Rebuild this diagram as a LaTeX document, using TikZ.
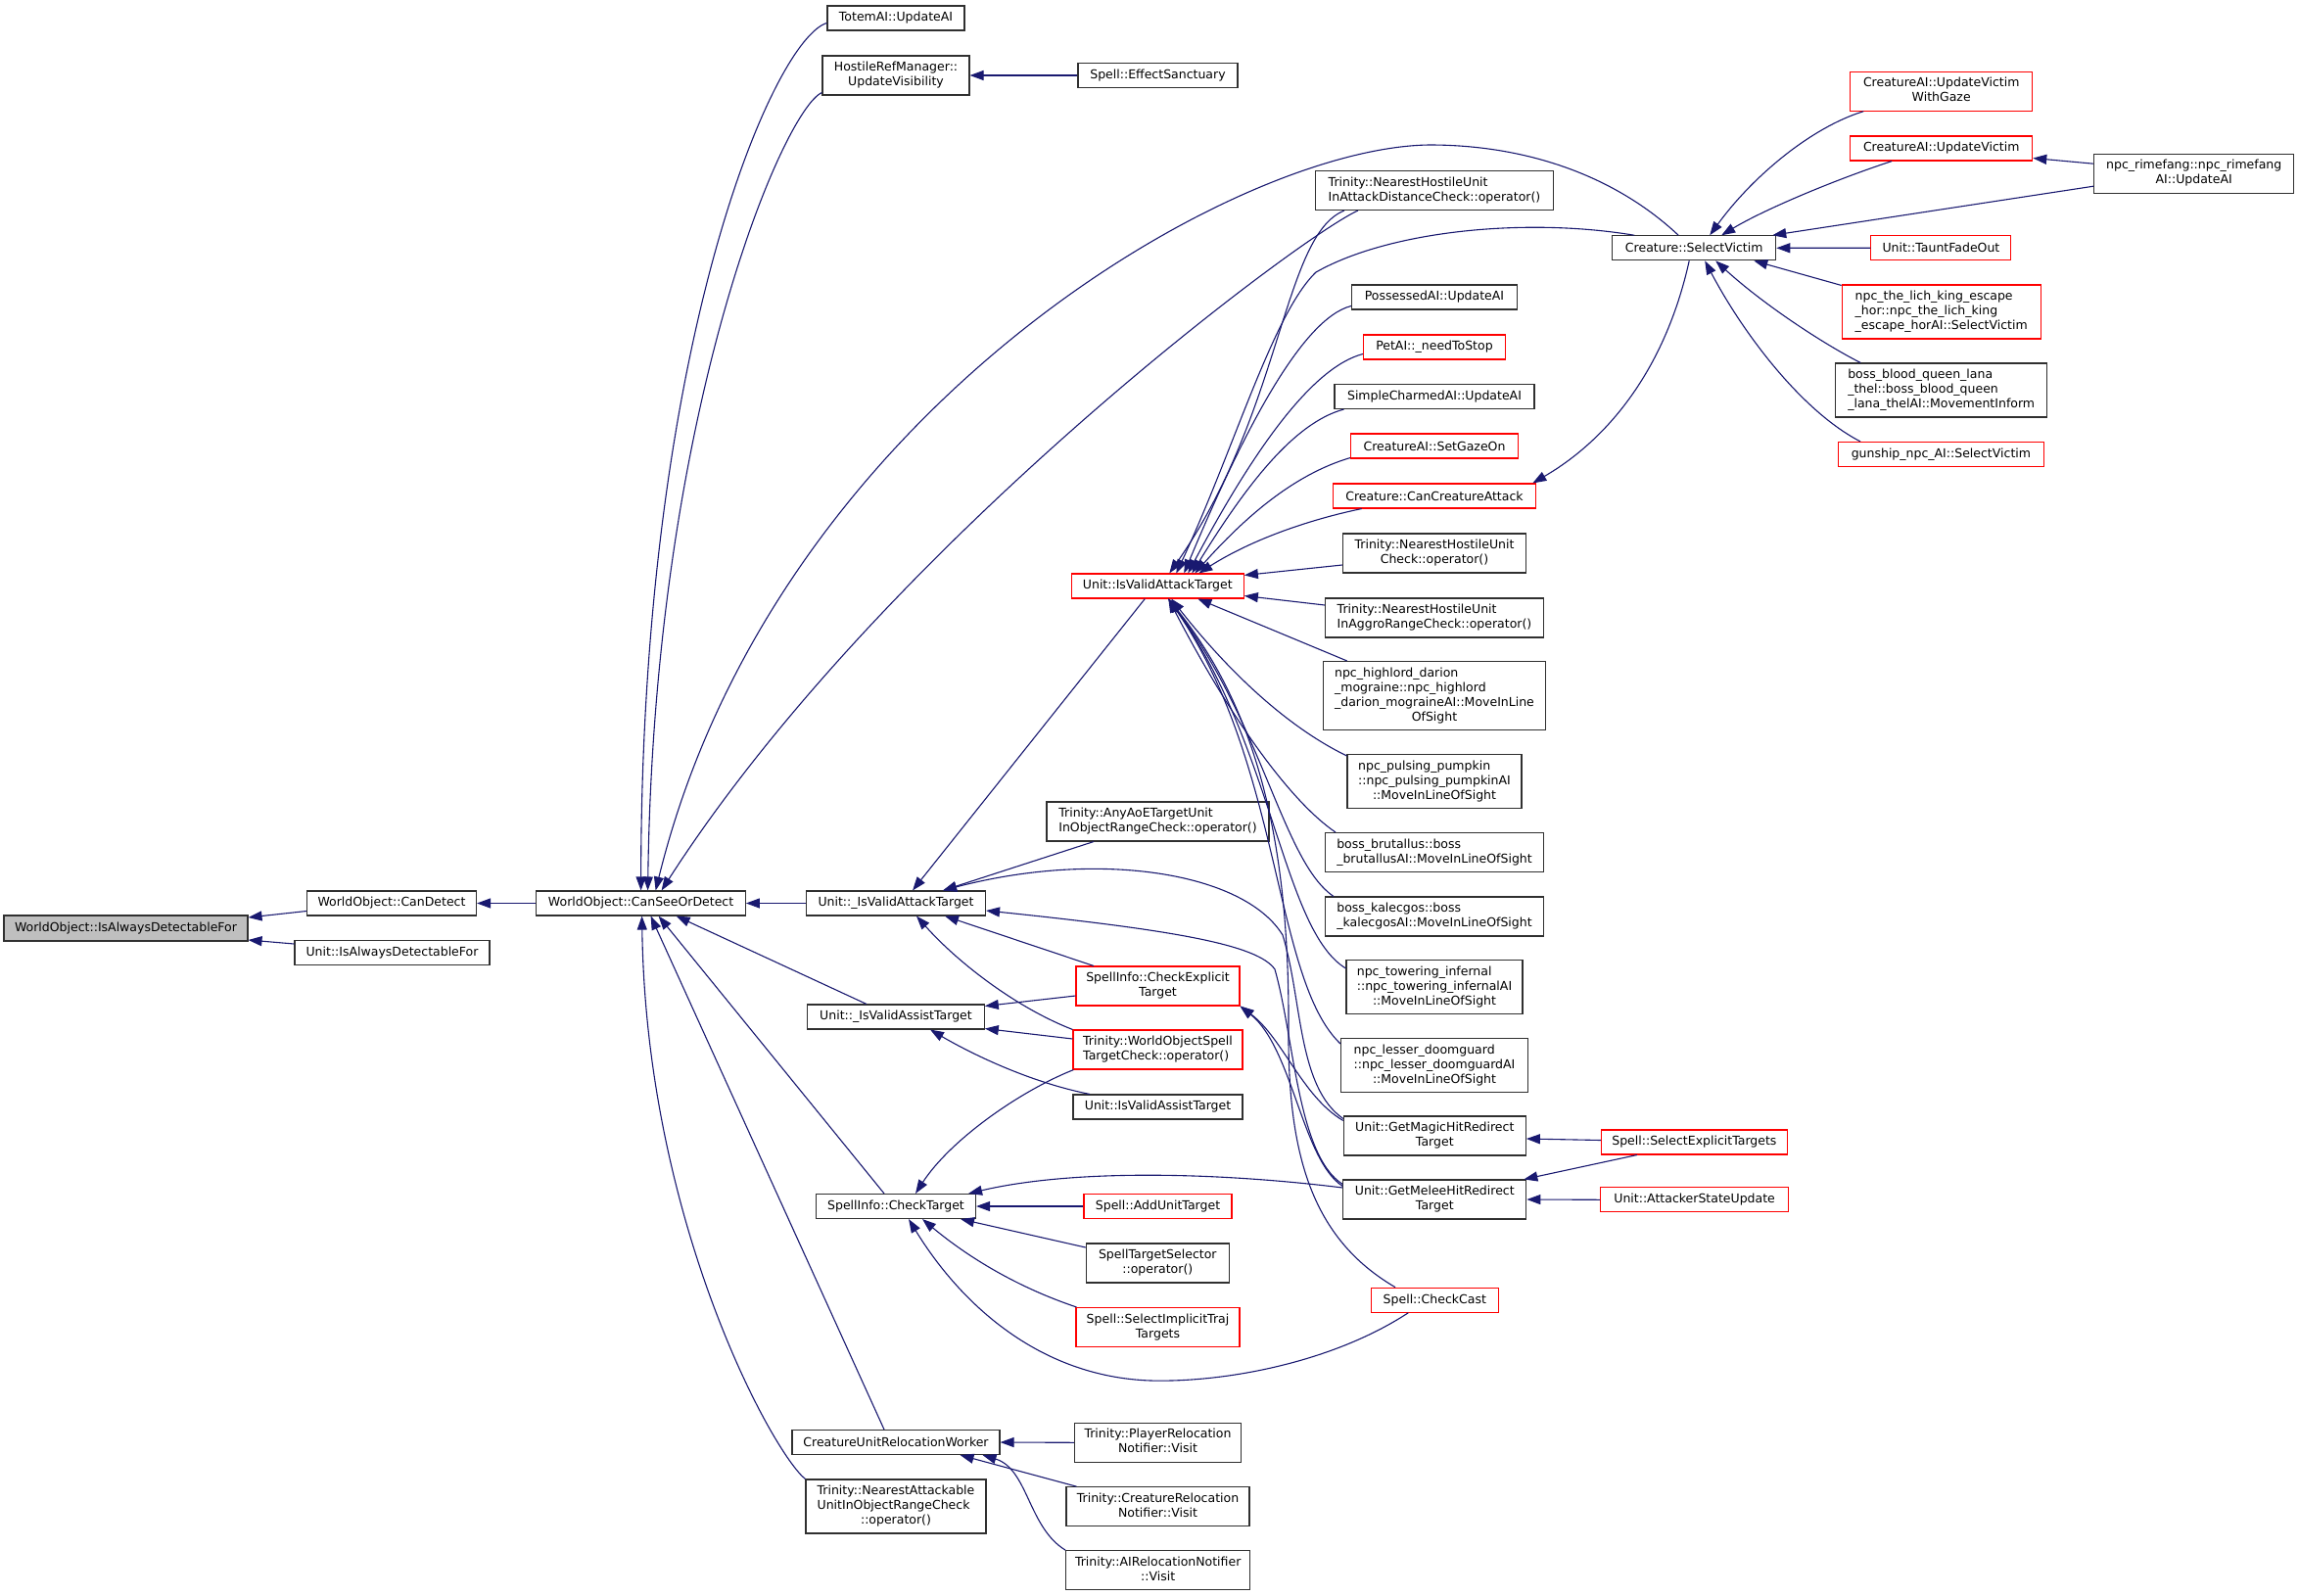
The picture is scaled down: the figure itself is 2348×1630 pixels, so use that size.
\documentclass[tikz,border=0pt]{standalone}
\usepackage{fontspec}
\setmainfont{DejaVu Sans}
\usetikzlibrary{arrows.meta,calc}
\definecolor{mb}{HTML}{191970}
\definecolor{rd}{HTML}{FF0000}
\definecolor{gr}{HTML}{BFBFBF}
\definecolor{bk}{HTML}{303030}
\newcommand{\Lc}[1]{\multicolumn{1}{@{}c@{}}{#1}}
\newcommand{\tl}[1]{\begin{tabular}{@{}l@{}}#1\end{tabular}}
\tikzset{
 bx/.style={draw=bk, line width=1.1pt, fill=white, inner sep=0pt, minimum height=25pt, font=\fontsize{12.5}{15}\selectfont, text=black},
 rb/.style={bx, draw=rd},
 e/.style={draw=mb, line width=1.1pt, -{Triangle[length=14pt,width=10pt]}},
}
\begin{document}
\begin{tikzpicture}[x=1pt,y=-1pt]
\fill[white] (0,0) rectangle (2348,1630);
\useasboundingbox (0,0) rectangle (2348,1630);
% nodes
\node[bx,fill=gr,minimum width=249pt,minimum height=26pt] (n1) at (128.5,948) {WorldObject::IsAlwaysDetectableFor};
\node[bx,minimum width=173pt] (n2) at (400,922.5) {WorldObject::CanDetect};
\node[bx,minimum width=199pt] (n3) at (400.5,973) {Unit::IsAlwaysDetectableFor};
\node[bx,minimum width=213.5pt] (n4) at (654.6,922.5) {WorldObject::CanSeeOrDetect};
\node[bx,minimum width=140pt] (n5) at (915,18.5) {TotemAI::UpdateAI};
\node[bx,minimum width=150pt,minimum height=40pt] (n6) at (915,77) {\tl{HostileRefManager::\\\Lc{UpdateVisibility}}};
\node[bx,minimum width=163pt] (n7) at (1182.5,77) {Spell::EffectSanctuary};
\node[bx,minimum width=183pt] (n8) at (915,922.5) {Unit::\_IsValidAttackTarget};
\node[bx,minimum width=180.5pt] (n9) at (915,1038.5) {Unit::\_IsValidAssistTarget};
\node[bx,minimum width=163pt] (n10) at (915,1232) {SpellInfo::CheckTarget};
\node[bx,minimum width=212pt] (n11) at (915,1473) {CreatureUnitRelocationWorker};
\node[bx,minimum width=184pt,minimum height=55pt] (n12) at (915,1538.5) {\tl{Trinity::NearestAttackable\\UnitInObjectRangeCheck\\\Lc{::operator()}}};
\node[bx,minimum width=243pt,minimum height=40pt] (n13) at (1465,194.5) {\tl{Trinity::NearestHostileUnit\\InAttackDistanceCheck::operator()}};
\node[bx,minimum width=169pt] (n14) at (1465,303.5) {PossessedAI::UpdateAI};
\node[rb,minimum width=145pt] (n15) at (1465,354.5) {PetAI::\_needToStop};
\node[bx,minimum width=204pt] (n16) at (1465,405) {SimpleCharmedAI::UpdateAI};
\node[rb,minimum width=171pt] (n17) at (1465,455.5) {CreatureAI::SetGazeOn};
\node[rb,minimum width=207.5pt] (n18) at (1465,506.5) {Creature::CanCreatureAttack};
\node[bx,minimum width=187pt,minimum height=40pt] (n19) at (1465,565) {\tl{Trinity::NearestHostileUnit\\\Lc{Check::operator()}}};
\node[rb,minimum width=176pt] (n20) at (1182.3,598.5) {Unit::IsValidAttackTarget};
\node[bx,minimum width=223pt,minimum height=40pt] (n21) at (1465,631) {\tl{Trinity::NearestHostileUnit\\InAggroRangeCheck::operator()}};
\node[bx,minimum width=227.5pt,minimum height=70pt] (n22) at (1465,710.5) {\tl{npc\_highlord\_darion\\\_mograine::npc\_highlord\\\_darion\_mograineAI::MoveInLine\\\Lc{OfSight}}};
\node[bx,minimum width=178pt,minimum height=55pt] (n23) at (1465,798) {\tl{npc\_pulsing\_pumpkin\\::npc\_pulsing\_pumpkinAI\\\Lc{::MoveInLineOfSight}}};
\node[bx,minimum width=227pt,minimum height=40pt] (n24) at (1182.5,839) {\tl{Trinity::AnyAoETargetUnit\\InObjectRangeCheck::operator()}};
\node[bx,minimum width=223pt,minimum height=40pt] (n25) at (1465,870.5) {\tl{boss\_brutallus::boss\\\_brutallusAI::MoveInLineOfSight}};
\node[bx,minimum width=223pt,minimum height=40pt] (n26) at (1465,936) {\tl{boss\_kalecgos::boss\\\_kalecgosAI::MoveInLineOfSight}};
\node[bx,minimum width=180pt,minimum height=55pt] (n27) at (1465,1008) {\tl{npc\_towering\_infernal\\::npc\_towering\_infernalAI\\\Lc{::MoveInLineOfSight}}};
\node[bx,minimum width=191pt,minimum height=55pt] (n28) at (1465,1088) {\tl{npc\_lesser\_doomguard\\::npc\_lesser\_doomguardAI\\\Lc{::MoveInLineOfSight}}};
\node[rb,minimum width=167pt,minimum height=40pt] (n29) at (1182.5,1007) {\tl{SpellInfo::CheckExplicit\\\Lc{Target}}};
\node[rb,minimum width=173pt,minimum height=40pt] (n30) at (1182.5,1072) {\tl{Trinity::WorldObjectSpell\\TargetCheck::operator()}};
\node[bx,minimum width=173pt] (n31) at (1182.5,1130.5) {Unit::IsValidAssistTarget};
\node[rb,minimum width=151pt] (n32) at (1182.5,1232) {Spell::AddUnitTarget};
\node[bx,minimum width=146pt,minimum height=40pt] (n33) at (1182.3,1290) {\tl{SpellTargetSelector\\\Lc{::operator()}}};
\node[rb,minimum width=167pt,minimum height=40pt] (n34) at (1182.5,1355.5) {\tl{Spell::SelectImplicitTraj\\\Lc{Targets}}};
\node[bx,minimum width=170pt,minimum height=40pt] (n35) at (1182.5,1473.3) {\tl{Trinity::PlayerRelocation\\\Lc{Notifier::Visit}}};
\node[bx,minimum width=187pt,minimum height=40pt] (n36) at (1182.5,1538.7) {\tl{Trinity::CreatureRelocation\\\Lc{Notifier::Visit}}};
\node[bx,minimum width=188pt,minimum height=40pt] (n37) at (1182.7,1603.7) {\tl{Trinity::AIRelocationNotifier\\\Lc{::Visit}}};
\node[bx,minimum width=186pt,minimum height=40pt] (n38) at (1465.3,1160) {\tl{Unit::GetMagicHitRedirect\\\Lc{Target}}};
\node[rb,minimum width=190pt] (n39) at (1730.4,1166.5) {Spell::SelectExplicitTargets};
\node[bx,minimum width=187pt,minimum height=40pt] (n40) at (1465.3,1225) {\tl{Unit::GetMeleeHitRedirect\\\Lc{Target}}};
\node[rb,minimum width=192pt] (n41) at (1730.6,1225.3) {Unit::AttackerStateUpdate};
\node[rb,minimum width=129.5pt] (n42) at (1465.3,1327.7) {Spell::CheckCast};
\node[rb,minimum width=186pt,minimum height=40pt] (n43) at (1982.7,93.2) {\tl{CreatureAI::UpdateVictim\\\Lc{WithGaze}}};
\node[rb,minimum width=186pt] (n44) at (1982.7,151.5) {CreatureAI::UpdateVictim};
\node[bx,minimum width=204pt,minimum height=40pt] (n45) at (2240.7,177.2) {\tl{npc\_rimefang::npc\_rimefang\\\Lc{AI::UpdateAI}}};
\node[bx,minimum width=167pt] (n46) at (1730.2,253.3) {Creature::SelectVictim};
\node[rb,minimum width=143pt] (n47) at (1982.4,253.2) {Unit::TauntFadeOut};
\node[rb,minimum width=203pt,minimum height=55pt] (n48) at (1982.7,318.5) {\tl{npc\_the\_lich\_king\_escape\\\_hor::npc\_the\_lich\_king\\\_escape\_horAI::SelectVictim}};
\node[bx,minimum width=216pt,minimum height=55pt] (n49) at (1982.7,398.5) {\tl{boss\_blood\_queen\_lana\\\_thel::boss\_blood\_queen\\\_lana\_thelAI::MovementInform}};
\node[rb,minimum width=209.5pt] (n50) at (1982.4,464) {gunship\_npc\_AI::SelectVictim};
% edges
\draw[e] ($(n2.west)+(0,8)$) -- ($(n1.east)+(0,-11)$);
\draw[e] ($(n3.west)+(0,-9)$) -- ($(n1.east)+(0,12)$);
\draw[e] (n4.west) -- (n2.east);
\draw[e] ($(n5.west)+(0,5)$) .. controls (790,40) and (655,350) .. (n4.north);
\draw[e] ($(n6.south west)+(0,-3)$) .. controls (800,112) and (668,420) .. ($(n4.north)+(7,0)$);
\draw[e] ($(n46.north west)+(68,0)$) .. controls (1650,180) and (1560,148) .. (1460,148) .. controls (1260,150) and (790,420) .. ($(n4.north)+(15,0)$);
\draw[e] ($(n13.south west)+(44,0)$) .. controls (1330,240) and (900,560) .. ($(n4.north)+(21,0)$);
\draw[e] (n8.west) -- (n4.east);
\draw[e] ($(n9.north)+(-30,0)$) -- ($(n4.south)+(36,0)$);
\draw[e] ($(n10.north)+(-12,0)$) -- ($(n4.south)+(18,0)$);
\draw[e] ($(n11.north)+(-12,0)$) -- ($(n4.south)+(10,0)$);
\draw[e] (n12.north west) .. controls (790,1485) and (660,1250) .. ($(n4.south)+(1,0)$);
\draw[e] (n7.west) -- (n6.east);
\draw[e] ($(n20.south)+(-13,0)$) -- ($(n8.north)+(17,0)$);
\draw[e] ($(n24.south)+(-65.5,0)$) -- ($(n8.north)+(48,0)$);
\draw[e] ($(n29.north)+(-65.5,0)$) -- ($(n8.south)+(50,0)$);
\draw[e] (n30.north west) .. controls (1040,1030) and (980,985) .. ($(n8.south)+(21,0)$);
\draw[e] ($(n38.north west)+(0,3)$) .. controls (1325,1110) and (1330,1020) .. (1310,955) .. controls (1270,890) and (1120,868) .. ($(n8.north)+(48,0)$);
\draw[e] ($(n40.north west)+(0,5)$) .. controls (1325,1180) and (1322,1060) .. (1302,990) .. controls (1285,965) and (1200,950) .. ($(n8.east)+(0,7.5)$);
\draw[e] ($(n29.west)+(0,10)$) -- ($(n9.east)+(0,-11)$);
\draw[e] ($(n30.west)+(0,-11)$) -- ($(n9.east)+(0,12)$);
\draw[e] ($(n31.north)+(-69.5,0)$) .. controls (1050,1105) and (990,1075) .. ($(n9.south)+(35,0)$);
\draw[e] ($(n30.south west)+(1,0)$) .. controls (1040,1115) and (970,1165) .. ($(n10.north)+(20,0)$);
\draw[e] (n32.west) -- (n10.east);
\draw[e] ($(n33.west)+(0,-16)$) -- ($(n10.south east)+(-16,0)$);
\draw[e] ($(n34.north west)+(1,0)$) .. controls (1040,1315) and (990,1285) .. ($(n10.south)+(27,0)$);
\draw[e] ($(n42.south)+(-27,0)$) .. controls (1360,1392) and (1250,1412) .. (1175,1410) .. controls (1060,1406) and (980,1330) .. ($(n10.south)+(13,0)$);
\draw[e] ($(n40.west)+(0,-12)$) .. controls (1250,1198) and (1100,1193) .. ($(n10.north east)+(-8,0)$);
\draw[e] (n35.west) -- (n11.east);
\draw[e] ($(n36.north west)+(11,0)$) -- ($(n11.south east)+(-41,0)$);
\draw[e] (n37.north west) .. controls (1050,1560) and (1050,1500) .. ($(n11.south east)+(-18,0)$);
\draw[e] ($(n13.south west)+(30,0)$) .. controls (1310,240) and (1310,420) .. ($(n20.north)+(12,0)$);
\draw[e] ($(n46.north west)+(23,0)$) .. controls (1560,222) and (1420,235) .. (1344,278) .. controls (1300,320) and (1260,460) .. ($(n20.north)+(19,0)$);
\draw[e] ($(n14.west)+(0,9)$) .. controls (1330,325) and (1270,440) .. ($(n20.north)+(27,0)$);
\draw[e] ($(n15.west)+(0,7)$) .. controls (1340,375) and (1280,460) .. ($(n20.north)+(31,0)$);
\draw[e] ($(n16.south west)+(10,0)$) .. controls (1320,432) and (1270,500) .. ($(n20.north)+(35,0)$);
\draw[e] ($(n17.south west)+(0,-1)$) .. controls (1320,485) and (1270,530) .. ($(n20.north)+(38,0)$);
\draw[e] ($(n18.south west)+(30,0)$) .. controls (1340,530) and (1280,550) .. ($(n20.north)+(42,0)$);
\draw[e] ($(n19.west)+(0,12)$) -- ($(n20.east)+(0,-11)$);
\draw[e] ($(n21.west)+(0,-13)$) -- ($(n20.east)+(0,10)$);
\draw[e] ($(n22.north west)+(25,0)$) -- ($(n20.south)+(41,0)$);
\draw[e] ($(n23.north west)+(0,2)$) .. controls (1310,740) and (1250,680) .. ($(n20.south)+(14,0)$);
\draw[e] ($(n25.north west)+(11,0)$) .. controls (1320,820) and (1260,740) .. ($(n20.south)+(11,0)$);
\draw[e] ($(n26.north west)+(9,0)$) .. controls (1310,880) and (1290,740) .. ($(n20.south)+(11,0)$);
\draw[e] ($(n27.north west)+(0,9)$) .. controls (1310,950) and (1300,760) .. ($(n20.south)+(11,0)$);
\draw[e] ($(n28.north west)+(0,6)$) .. controls (1300,1000) and (1310,780) .. ($(n20.south)+(11,0)$);
\draw[e] ($(n42.north west)+(25,0)$) .. controls (1340,1265) and (1315,1180) .. (1316,1050) .. controls (1317,850) and (1280,720) .. ($(n20.south)+(11,0)$);
\draw[e] ($(n38.north west)+(0,5)$) .. controls (1330,1120) and (1310,1060) .. (n29.south east);
\draw[e] ($(n40.north west)+(0,7)$) .. controls (1330,1185) and (1320,1070) .. (n29.south east);
\draw[e] ($(n39.west)+(0,-2)$) -- ($(n38.east)+(0,3)$);
\draw[e] ($(n39.south west)+(37,0)$) -- ($(n40.north east)+(-3,0)$);
\draw[e] (n41.west) -- (n40.east);
\draw[e] ($(n43.south west)+(14,0)$) .. controls (1850,130) and (1790,180) .. ($(n46.north)+(16,0)$);
\draw[e] ($(n44.south west)+(43,0)$) .. controls (1870,185) and (1800,215) .. ($(n46.north)+(28,0)$);
\draw[e] ($(n45.west)+(0,13)$) -- ($(n46.north east)+(-4,0)$);
\draw[e] ($(n45.west)+(0,-10)$) -- ($(n44.east)+(0,10)$);
\draw[e] (n47.west) -- (n46.east);
\draw[e] ($(n48.north west)+(0,1)$) -- ($(n46.south east)+(-23,0)$);
\draw[e] ($(n49.north west)+(26,0)$) .. controls (1860,350) and (1800,310) .. ($(n46.south)+(22,0)$);
\draw[e] ($(n50.north west)+(23,0)$) .. controls (1840,420) and (1780,340) .. ($(n46.south)+(11,0)$);
\draw[e] ($(n46.south)+(-5,0)$) .. controls (1700,380) and (1640,450) .. ($(n18.north east)+(-4,0)$);
\end{tikzpicture}
\end{document}
